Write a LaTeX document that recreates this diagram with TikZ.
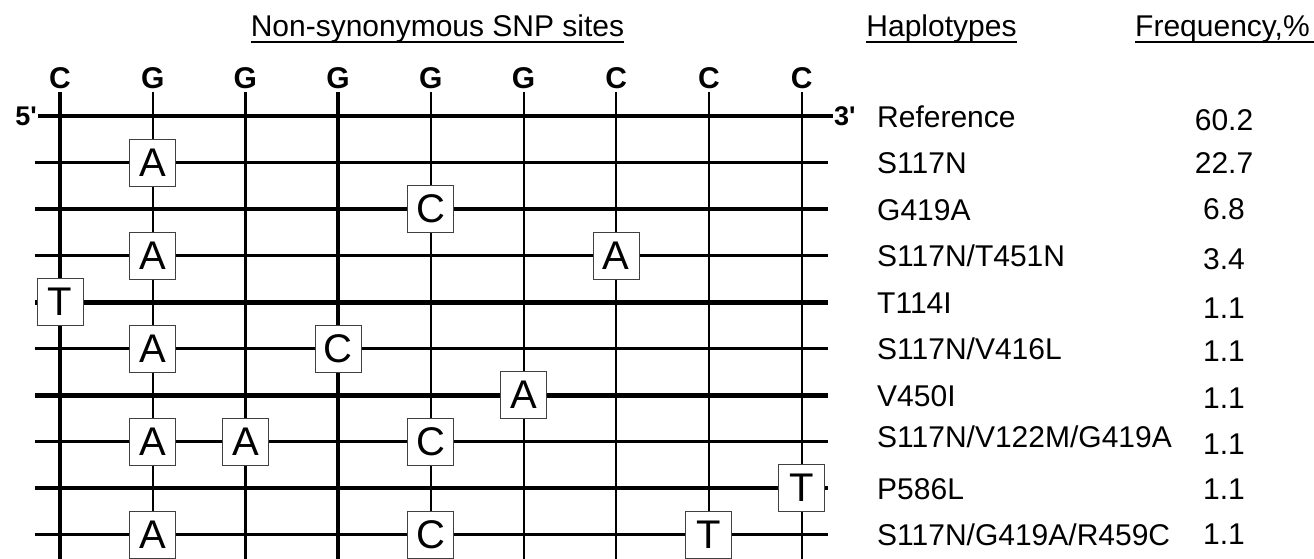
\documentclass[tikz,border=0pt]{standalone}
\usepackage{fontspec}
\setmainfont{Liberation Sans}
\newfontfamily\primefont{Liberation Sans}
\newcommand{\txtsize}{\fontsize{30}{36}\selectfont}
\newcommand{\primesize}{\fontsize{27}{32}\selectfont}
\newcommand{\boxsize}{\fontsize{40}{48}\selectfont}
\tikzset{
  site/.style={anchor=base, inner sep=3pt, font=\txtsize\bfseries},
  strandend/.style={inner sep=1pt, font=\primefont\primesize\bfseries},
  snpbox/.style={draw=black!75, fill=white, line width=1pt, minimum width=46pt,
    minimum height=47pt, inner sep=0pt, font=\boxsize},
  hap/.style={anchor=base west, inner sep=0pt, font=\txtsize},
  freq/.style={anchor=base, inner sep=0pt, font=\txtsize},
  heading/.style={anchor=base, inner sep=0pt, font=\txtsize},
  strand/.style={line width=3.5pt},
}
\begin{document}
\begin{tikzpicture}[x=1pt,y=-1pt]
    \useasboundingbox (0,0) rectangle (1314,558);
    % headings
    \node[heading] (hsnp) at (437.5,36) {Non-synonymous SNP sites};
    \node[heading] (hhap) at (941.5,36) {Haplotypes};
    \node[heading,anchor=base west] (hfreq) at (1135,36) {Frequency,\%};
    \coordinate (edge) at (1314,42);
    \draw[line width=2pt] (hsnp.south west) -- (hsnp.south east);
    \draw[line width=2pt] (hhap.south west) -- (hhap.south east);
    \draw[line width=2pt] (hfreq.south west) -- (hfreq.south west -| edge);
    % sites and vertical strands
    \foreach \b/\w [count=\c] in {C/4,G/2,G/2.5,G/4,G/2,G/2,C/2,C/2,C/2} {
      \node[site] (s\c) at ({60+92.7*(\c-1)},88.5) {\b};
      \coordinate (e\c) at ({60+92.7*(\c-1)},560);
      \draw[line width=\w pt] (s\c.south) -- (e\c);
    }
    % haplotype rows
    \node[strandend,anchor=east] (five) at (38,116) {5'};
    \node[strandend,anchor=west] (three) at (833,116) {3'};
    \draw[strand] (five.east) -- (three.west);
    \coordinate (l1) at (five.east);
    \foreach \r/\w in {2/3.5,3/3.5,4/3.5,5/5,6/3.5,7/5,8/3.5,9/3.5,10/3.5} {
      \coordinate (l\r) at (35,{116+46.5*(\r-1)});
      \coordinate (r\r) at (828,{116+46.5*(\r-1)});
      \draw[line width=\w pt] (l\r) -- (r\r);
    }
    % substitutions
    \node[snpbox] (b2) at (s2 |- l2) {A};
    \node[snpbox] (b3) at (s5 |- l3) {C};
    \node[snpbox] (b4a) at (s2 |- l4) {A};
    \node[snpbox] (b4b) at (s7 |- l4) {A};
    \node[snpbox] (b5) at (s1 |- l5) {T};
    \node[snpbox] (b6a) at (s2 |- l6) {A};
    \node[snpbox] (b6b) at (s4 |- l6) {C};
    \node[snpbox] (b7) at (s6 |- l7) {A};
    \node[snpbox] (b8a) at (s2 |- l8) {A};
    \node[snpbox] (b8b) at (s3 |- l8) {A};
    \node[snpbox] (b8c) at (s5 |- l8) {C};
    \node[snpbox] (b9) at (s9 |- l9) {T};
    \node[snpbox] (b10a) at (s2 |- l10) {A};
    \node[snpbox] (b10b) at (s5 |- l10) {C};
    \node[snpbox] (b10c) at (s8 |- l10) {T};
    % haplotype names
    \node[hap] (n1) at (877,127) {Reference};
    \node[hap] (n2) at (877,173.5) {S117N};
    \node[hap] (n3) at (877,220) {G419A};
    \node[hap] (n4) at (877,266.5) {S117N/T451N};
    \node[hap] (n5) at (877,313) {T114I};
    \node[hap] (n6) at (877,359.5) {S117N/V416L};
    \node[hap] (n7) at (877,406) {V450I};
    \node[hap] (n8) at (877,447.5) {S117N/V122M/G419A};
    \node[hap] (n9) at (877,499) {P586L};
    \node[hap] (n10) at (877,545.5) {S117N/G419A/R459C};
    % frequencies
    \node[freq] (f1) at (1224,130) {60.2};
    \node[freq] (f2) at (1224,173) {22.7};
    \node[freq] (f3) at (1224,219) {6.8};
    \node[freq] (f4) at (1224,269) {3.4};
    \node[freq] (f5) at (1224,318) {1.1};
    \node[freq] (f6) at (1224,361) {1.1};
    \node[freq] (f7) at (1224,408) {1.1};
    \node[freq] (f8) at (1224,454) {1.1};
    \node[freq] (f9) at (1224,499) {1.1};
    \node[freq] (f10) at (1224,544) {1.1};
  \end{tikzpicture}
\end{document}
